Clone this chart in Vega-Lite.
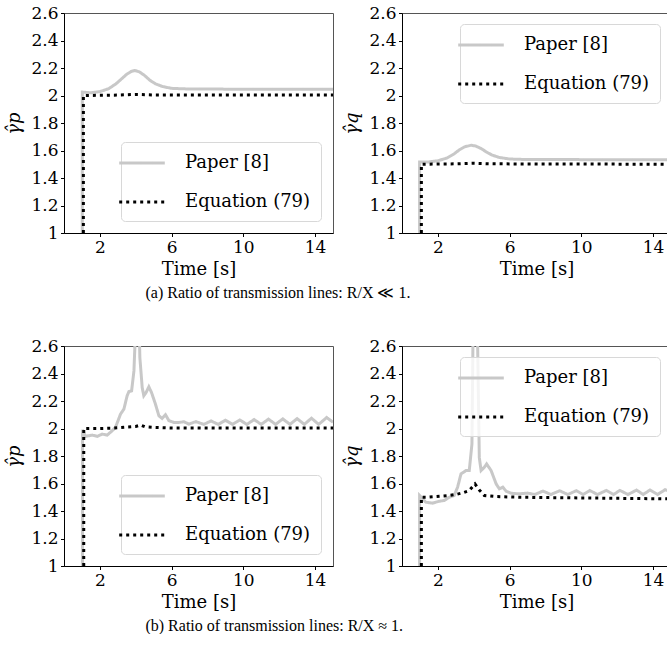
{
"$schema": "https://vega.github.io/schema/vega-lite/v6.json",
"padding": {"left": 5, "top": 3, "right": 0, "bottom": 0},
"config": {
 "view": {"stroke": "#555", "strokeWidth": 1},
 "axis": {"grid": false, "domainColor": "#000", "tickColor": "#000", "tickSize": 3.5, "labelFontSize": 17, "labelColor": "#000", "labelPadding": 2.5, "titleFontSize": 18, "titleColor": "#000", "labelFlush": false, "labelOverlap": false},
 "axisX": {"titlePadding": 5},
 "axisY": {"titlePadding": 7},
 "legend": {"title": null, "labelFontSize": 18, "labelColor": "#000", "symbolType": "M-2.4,0H2.4", "symbolSize": 361, "symbolStrokeWidth": 3, "labelOffset": 32, "rowPadding": 19, "padding": 10, "fillColor": "rgba(255,255,255,0.8)", "strokeColor": "#d8d8d8", "cornerRadius": 4, "offset": 12, "labelLimit": 300},
 "title": {"font": "Liberation Serif", "fontSize": 16, "fontWeight": 400, "color": "#000"}
},
"datasets": {"curves": [
{"panel":"ap","series":"Paper [8]","time":1.02,"ratio":1.0},{"panel":"ap","series":"Paper [8]","time":1.021,"ratio":2.025},{"panel":"ap","series":"Paper [8]","time":1.5,"ratio":2.02},{"panel":"ap","series":"Paper [8]","time":2.0,"ratio":2.028},{"panel":"ap","series":"Paper [8]","time":2.5,"ratio":2.05},{"panel":"ap","series":"Paper [8]","time":2.9,"ratio":2.085},{"panel":"ap","series":"Paper [8]","time":3.2,"ratio":2.12},{"panel":"ap","series":"Paper [8]","time":3.5,"ratio":2.155},{"panel":"ap","series":"Paper [8]","time":3.75,"ratio":2.175},{"panel":"ap","series":"Paper [8]","time":3.95,"ratio":2.182},{"panel":"ap","series":"Paper [8]","time":4.2,"ratio":2.172},{"panel":"ap","series":"Paper [8]","time":4.5,"ratio":2.145},{"panel":"ap","series":"Paper [8]","time":4.8,"ratio":2.11},{"panel":"ap","series":"Paper [8]","time":5.1,"ratio":2.085},{"panel":"ap","series":"Paper [8]","time":5.5,"ratio":2.065},{"panel":"ap","series":"Paper [8]","time":6.0,"ratio":2.052},{"panel":"ap","series":"Paper [8]","time":7.0,"ratio":2.047},{"panel":"ap","series":"Paper [8]","time":10,"ratio":2.046},{"panel":"ap","series":"Paper [8]","time":15,"ratio":2.046},
{"panel":"ap","series":"Equation (79)","time":1.08,"ratio":1.0},{"panel":"ap","series":"Equation (79)","time":1.081,"ratio":2.0},{"panel":"ap","series":"Equation (79)","time":3.0,"ratio":2.003},{"panel":"ap","series":"Equation (79)","time":4.0,"ratio":2.008},{"panel":"ap","series":"Equation (79)","time":5.0,"ratio":2.004},{"panel":"ap","series":"Equation (79)","time":15,"ratio":2.003},
{"panel":"aq","series":"Paper [8]","time":0.98,"ratio":1.0},{"panel":"aq","series":"Paper [8]","time":0.981,"ratio":1.517},{"panel":"aq","series":"Paper [8]","time":1.5,"ratio":1.517},{"panel":"aq","series":"Paper [8]","time":2.0,"ratio":1.525},{"panel":"aq","series":"Paper [8]","time":2.5,"ratio":1.545},{"panel":"aq","series":"Paper [8]","time":2.9,"ratio":1.575},{"panel":"aq","series":"Paper [8]","time":3.2,"ratio":1.605},{"panel":"aq","series":"Paper [8]","time":3.5,"ratio":1.627},{"panel":"aq","series":"Paper [8]","time":3.85,"ratio":1.638},{"panel":"aq","series":"Paper [8]","time":4.1,"ratio":1.633},{"panel":"aq","series":"Paper [8]","time":4.4,"ratio":1.615},{"panel":"aq","series":"Paper [8]","time":4.7,"ratio":1.59},{"panel":"aq","series":"Paper [8]","time":5.0,"ratio":1.568},{"panel":"aq","series":"Paper [8]","time":5.4,"ratio":1.55},{"panel":"aq","series":"Paper [8]","time":6.0,"ratio":1.538},{"panel":"aq","series":"Paper [8]","time":7.0,"ratio":1.534},{"panel":"aq","series":"Paper [8]","time":15,"ratio":1.533},
{"panel":"aq","series":"Equation (79)","time":1.08,"ratio":1.0},{"panel":"aq","series":"Equation (79)","time":1.081,"ratio":1.5},{"panel":"aq","series":"Equation (79)","time":3.0,"ratio":1.503},{"panel":"aq","series":"Equation (79)","time":4.0,"ratio":1.507},{"panel":"aq","series":"Equation (79)","time":5.0,"ratio":1.503},{"panel":"aq","series":"Equation (79)","time":15,"ratio":1.5},
{"panel":"bp","series":"Paper [8]","time":1.03,"ratio":1.0},{"panel":"bp","series":"Paper [8]","time":1.031,"ratio":1.99},{"panel":"bp","series":"Paper [8]","time":1.2,"ratio":1.943},{"panel":"bp","series":"Paper [8]","time":1.57,"ratio":1.952},{"panel":"bp","series":"Paper [8]","time":1.85,"ratio":1.943},{"panel":"bp","series":"Paper [8]","time":2.13,"ratio":1.959},{"panel":"bp","series":"Paper [8]","time":2.41,"ratio":1.952},{"panel":"bp","series":"Paper [8]","time":2.69,"ratio":1.984},{"panel":"bp","series":"Paper [8]","time":2.87,"ratio":2.008},{"panel":"bp","series":"Paper [8]","time":3.15,"ratio":2.104},{"panel":"bp","series":"Paper [8]","time":3.34,"ratio":2.141},{"panel":"bp","series":"Paper [8]","time":3.52,"ratio":2.238},{"panel":"bp","series":"Paper [8]","time":3.62,"ratio":2.269},{"panel":"bp","series":"Paper [8]","time":3.77,"ratio":2.274},{"panel":"bp","series":"Paper [8]","time":3.9,"ratio":2.419},{"panel":"bp","series":"Paper [8]","time":3.95,"ratio":2.588},{"panel":"bp","series":"Paper [8]","time":4.02,"ratio":3.2},{"panel":"bp","series":"Paper [8]","time":4.12,"ratio":3.2},{"panel":"bp","series":"Paper [8]","time":4.23,"ratio":2.516},{"panel":"bp","series":"Paper [8]","time":4.36,"ratio":2.298},{"panel":"bp","series":"Paper [8]","time":4.45,"ratio":2.238},{"panel":"bp","series":"Paper [8]","time":4.58,"ratio":2.262},{"panel":"bp","series":"Paper [8]","time":4.73,"ratio":2.303},{"panel":"bp","series":"Paper [8]","time":4.88,"ratio":2.262},{"panel":"bp","series":"Paper [8]","time":5.1,"ratio":2.177},{"panel":"bp","series":"Paper [8]","time":5.29,"ratio":2.093},{"panel":"bp","series":"Paper [8]","time":5.47,"ratio":2.073},{"panel":"bp","series":"Paper [8]","time":5.66,"ratio":2.1},{"panel":"bp","series":"Paper [8]","time":5.85,"ratio":2.057},{"panel":"bp","series":"Paper [8]","time":6.13,"ratio":2.044},{"panel":"bp","series":"Paper [8]","time":6.4,"ratio":2.044},{"panel":"bp","series":"Paper [8]","time":6.69,"ratio":2.049},{"panel":"bp","series":"Paper [8]","time":6.96,"ratio":2.032},{"panel":"bp","series":"Paper [8]","time":7.35,"ratio":2.05},{"panel":"bp","series":"Paper [8]","time":7.8,"ratio":2.03},{"panel":"bp","series":"Paper [8]","time":8.2,"ratio":2.055},{"panel":"bp","series":"Paper [8]","time":8.6,"ratio":2.03},{"panel":"bp","series":"Paper [8]","time":9.0,"ratio":2.06},{"panel":"bp","series":"Paper [8]","time":9.4,"ratio":2.03},{"panel":"bp","series":"Paper [8]","time":9.8,"ratio":2.062},{"panel":"bp","series":"Paper [8]","time":10.2,"ratio":2.03},{"panel":"bp","series":"Paper [8]","time":10.6,"ratio":2.065},{"panel":"bp","series":"Paper [8]","time":11.0,"ratio":2.03},{"panel":"bp","series":"Paper [8]","time":11.4,"ratio":2.068},{"panel":"bp","series":"Paper [8]","time":11.8,"ratio":2.03},{"panel":"bp","series":"Paper [8]","time":12.2,"ratio":2.07},{"panel":"bp","series":"Paper [8]","time":12.6,"ratio":2.03},{"panel":"bp","series":"Paper [8]","time":13.0,"ratio":2.072},{"panel":"bp","series":"Paper [8]","time":13.4,"ratio":2.03},{"panel":"bp","series":"Paper [8]","time":13.8,"ratio":2.075},{"panel":"bp","series":"Paper [8]","time":14.2,"ratio":2.03},{"panel":"bp","series":"Paper [8]","time":14.65,"ratio":2.08},{"panel":"bp","series":"Paper [8]","time":15,"ratio":2.045},
{"panel":"bp","series":"Equation (79)","time":1.1,"ratio":1.0},{"panel":"bp","series":"Equation (79)","time":1.101,"ratio":2.0},{"panel":"bp","series":"Equation (79)","time":2.0,"ratio":2.0},{"panel":"bp","series":"Equation (79)","time":2.8,"ratio":2.003},{"panel":"bp","series":"Equation (79)","time":3.5,"ratio":2.01},{"panel":"bp","series":"Equation (79)","time":4.0,"ratio":2.015},{"panel":"bp","series":"Equation (79)","time":4.27,"ratio":2.025},{"panel":"bp","series":"Equation (79)","time":4.5,"ratio":2.013},{"panel":"bp","series":"Equation (79)","time":5.0,"ratio":2.008},{"panel":"bp","series":"Equation (79)","time":6.0,"ratio":2.004},{"panel":"bp","series":"Equation (79)","time":15,"ratio":2.003},
{"panel":"bq","series":"Paper [8]","time":0.98,"ratio":1.0},{"panel":"bq","series":"Paper [8]","time":0.981,"ratio":1.513},{"panel":"bq","series":"Paper [8]","time":1.33,"ratio":1.464},{"panel":"bq","series":"Paper [8]","time":1.7,"ratio":1.457},{"panel":"bq","series":"Paper [8]","time":2.07,"ratio":1.471},{"panel":"bq","series":"Paper [8]","time":2.35,"ratio":1.476},{"panel":"bq","series":"Paper [8]","time":2.63,"ratio":1.5},{"panel":"bq","series":"Paper [8]","time":2.91,"ratio":1.513},{"panel":"bq","series":"Paper [8]","time":3.1,"ratio":1.573},{"panel":"bq","series":"Paper [8]","time":3.29,"ratio":1.67},{"panel":"bq","series":"Paper [8]","time":3.57,"ratio":1.694},{"panel":"bq","series":"Paper [8]","time":3.75,"ratio":1.694},{"panel":"bq","series":"Paper [8]","time":3.9,"ratio":1.887},{"panel":"bq","series":"Paper [8]","time":4.0,"ratio":3.2},{"panel":"bq","series":"Paper [8]","time":4.1,"ratio":3.2},{"panel":"bq","series":"Paper [8]","time":4.22,"ratio":2.59},{"panel":"bq","series":"Paper [8]","time":4.31,"ratio":1.79},{"panel":"bq","series":"Paper [8]","time":4.41,"ratio":1.694},{"panel":"bq","series":"Paper [8]","time":4.59,"ratio":1.718},{"panel":"bq","series":"Paper [8]","time":4.72,"ratio":1.742},{"panel":"bq","series":"Paper [8]","time":4.97,"ratio":1.694},{"panel":"bq","series":"Paper [8]","time":5.25,"ratio":1.597},{"panel":"bq","series":"Paper [8]","time":5.43,"ratio":1.561},{"panel":"bq","series":"Paper [8]","time":5.62,"ratio":1.573},{"panel":"bq","series":"Paper [8]","time":5.81,"ratio":1.544},{"panel":"bq","series":"Paper [8]","time":6.09,"ratio":1.529},{"panel":"bq","series":"Paper [8]","time":6.5,"ratio":1.525},{"panel":"bq","series":"Paper [8]","time":7.0,"ratio":1.53},{"panel":"bq","series":"Paper [8]","time":7.4,"ratio":1.52},{"panel":"bq","series":"Paper [8]","time":7.86,"ratio":1.545},{"panel":"bq","series":"Paper [8]","time":8.3,"ratio":1.52},{"panel":"bq","series":"Paper [8]","time":8.79,"ratio":1.547},{"panel":"bq","series":"Paper [8]","time":9.25,"ratio":1.52},{"panel":"bq","series":"Paper [8]","time":9.72,"ratio":1.548},{"panel":"bq","series":"Paper [8]","time":10.1,"ratio":1.52},{"panel":"bq","series":"Paper [8]","time":10.47,"ratio":1.549},{"panel":"bq","series":"Paper [8]","time":10.9,"ratio":1.52},{"panel":"bq","series":"Paper [8]","time":11.4,"ratio":1.55},{"panel":"bq","series":"Paper [8]","time":11.8,"ratio":1.52},{"panel":"bq","series":"Paper [8]","time":12.15,"ratio":1.55},{"panel":"bq","series":"Paper [8]","time":12.6,"ratio":1.52},{"panel":"bq","series":"Paper [8]","time":13.08,"ratio":1.552},{"panel":"bq","series":"Paper [8]","time":13.45,"ratio":1.52},{"panel":"bq","series":"Paper [8]","time":13.83,"ratio":1.553},{"panel":"bq","series":"Paper [8]","time":14.25,"ratio":1.52},{"panel":"bq","series":"Paper [8]","time":14.67,"ratio":1.555},{"panel":"bq","series":"Paper [8]","time":15,"ratio":1.54},
{"panel":"bq","series":"Equation (79)","time":1.08,"ratio":1.0},{"panel":"bq","series":"Equation (79)","time":1.081,"ratio":1.5},{"panel":"bq","series":"Equation (79)","time":1.4,"ratio":1.5},{"panel":"bq","series":"Equation (79)","time":2.63,"ratio":1.513},{"panel":"bq","series":"Equation (79)","time":3.0,"ratio":1.52},{"panel":"bq","series":"Equation (79)","time":3.38,"ratio":1.532},{"panel":"bq","series":"Equation (79)","time":3.75,"ratio":1.549},{"panel":"bq","series":"Equation (79)","time":4.07,"ratio":1.597},{"panel":"bq","series":"Equation (79)","time":4.31,"ratio":1.553},{"panel":"bq","series":"Equation (79)","time":4.59,"ratio":1.513},{"panel":"bq","series":"Equation (79)","time":5.25,"ratio":1.505},{"panel":"bq","series":"Equation (79)","time":6.5,"ratio":1.5},{"panel":"bq","series":"Equation (79)","time":15,"ratio":1.488}
]},
"resolve": {"scale": {"color": "independent", "strokeDash": "independent"}, "legend": {"color": "independent", "strokeDash": "independent"}},
"spacing": 35,
"vconcat": [
 {"hconcat": [
  {"width": 269, "height": 220, "data": {"name": "curves"}, "transform": [{"filter": "datum.panel=='ap'"}],
   "mark": {"type": "line", "clip": true, "strokeWidth": 3},
   "encoding": {
    "x": {"field": "time", "type": "quantitative", "scale": {"domain": [0, 15]}, "axis": {"title": "Time [s]", "values": [2, 6, 10, 14], "labelFont": "DejaVu Serif", "titleFont": "DejaVu Serif", "titleFontWeight": 400}},
    "y": {"field": "ratio", "type": "quantitative", "scale": {"domain": [1, 2.6]}, "axis": {"title": "γ̂p", "values": [1, 1.2, 1.4, 1.6, 1.8, 2, 2.2, 2.4, 2.6], "format": "~g", "labelFont": "DejaVu Serif", "titleFont": "DejaVu Serif", "titleFontWeight": 400, "titleFontStyle": "italic"}},
    "color": {"field": "series", "type": "nominal", "scale": {"domain": ["Paper [8]", "Equation (79)"], "range": ["#c8c8c8", "#000000"]}, "legend": {"orient": "bottom-right", "labelFont": "DejaVu Serif"}},
    "strokeDash": {"field": "series", "type": "nominal", "scale": {"domain": ["Paper [8]", "Equation (79)"], "range": [[1, 0], [3, 4]]}, "legend": {"orient": "bottom-right", "labelFont": "DejaVu Serif"}}
   }},
  {"width": 269, "height": 220, "data": {"name": "curves"}, "transform": [{"filter": "datum.panel=='aq'"}],
   "mark": {"type": "line", "clip": true, "strokeWidth": 3},
   "encoding": {
    "x": {"field": "time", "type": "quantitative", "scale": {"domain": [0, 15]}, "axis": {"title": "Time [s]", "values": [2, 6, 10, 14], "labelFont": "DejaVu Serif", "titleFont": "DejaVu Serif", "titleFontWeight": 400}},
    "y": {"field": "ratio", "type": "quantitative", "scale": {"domain": [1, 2.6]}, "axis": {"title": "γ̂q", "values": [1, 1.2, 1.4, 1.6, 1.8, 2, 2.2, 2.4, 2.6], "format": "~g", "labelFont": "DejaVu Serif", "titleFont": "DejaVu Serif", "titleFontWeight": 400, "titleFontStyle": "italic"}},
    "color": {"field": "series", "type": "nominal", "scale": {"domain": ["Paper [8]", "Equation (79)"], "range": ["#c8c8c8", "#000000"]}, "legend": {"orient": "top-right", "offset": 11, "labelFont": "DejaVu Serif"}},
    "strokeDash": {"field": "series", "type": "nominal", "scale": {"domain": ["Paper [8]", "Equation (79)"], "range": [[1, 0], [3, 4]]}, "legend": {"orient": "top-right", "offset": 11, "labelFont": "DejaVu Serif"}}
   }}
 ],
 "spacing": 69, "bounds": "flush",
 "resolve": {"scale": {"color": "independent", "strokeDash": "independent"}, "legend": {"color": "independent", "strokeDash": "independent"}},
 "title": {"text": "(a) Ratio of transmission lines: R/X ≪ 1.", "orient": "bottom", "anchor": "start", "dx": 140, "offset": 6}
 },
 {"hconcat": [
  {"width": 269, "height": 220, "data": {"name": "curves"}, "transform": [{"filter": "datum.panel=='bp'"}],
   "mark": {"type": "line", "clip": true, "strokeWidth": 3},
   "encoding": {
    "x": {"field": "time", "type": "quantitative", "scale": {"domain": [0, 15]}, "axis": {"title": "Time [s]", "values": [2, 6, 10, 14], "labelFont": "DejaVu Serif", "titleFont": "DejaVu Serif", "titleFontWeight": 400}},
    "y": {"field": "ratio", "type": "quantitative", "scale": {"domain": [1, 2.6]}, "axis": {"title": "γ̂p", "values": [1, 1.2, 1.4, 1.6, 1.8, 2, 2.2, 2.4, 2.6], "format": "~g", "labelFont": "DejaVu Serif", "titleFont": "DejaVu Serif", "titleFontWeight": 400, "titleFontStyle": "italic"}},
    "color": {"field": "series", "type": "nominal", "scale": {"domain": ["Paper [8]", "Equation (79)"], "range": ["#c8c8c8", "#000000"]}, "legend": {"orient": "bottom-right", "labelFont": "DejaVu Serif"}},
    "strokeDash": {"field": "series", "type": "nominal", "scale": {"domain": ["Paper [8]", "Equation (79)"], "range": [[1, 0], [3, 4]]}, "legend": {"orient": "bottom-right", "labelFont": "DejaVu Serif"}}
   }},
  {"width": 269, "height": 220, "data": {"name": "curves"}, "transform": [{"filter": "datum.panel=='bq'"}],
   "mark": {"type": "line", "clip": true, "strokeWidth": 3},
   "encoding": {
    "x": {"field": "time", "type": "quantitative", "scale": {"domain": [0, 15]}, "axis": {"title": "Time [s]", "values": [2, 6, 10, 14], "labelFont": "DejaVu Serif", "titleFont": "DejaVu Serif", "titleFontWeight": 400}},
    "y": {"field": "ratio", "type": "quantitative", "scale": {"domain": [1, 2.6]}, "axis": {"title": "γ̂q", "values": [1, 1.2, 1.4, 1.6, 1.8, 2, 2.2, 2.4, 2.6], "format": "~g", "labelFont": "DejaVu Serif", "titleFont": "DejaVu Serif", "titleFontWeight": 400, "titleFontStyle": "italic"}},
    "color": {"field": "series", "type": "nominal", "scale": {"domain": ["Paper [8]", "Equation (79)"], "range": ["#c8c8c8", "#000000"]}, "legend": {"orient": "top-right", "offset": 11, "labelFont": "DejaVu Serif"}},
    "strokeDash": {"field": "series", "type": "nominal", "scale": {"domain": ["Paper [8]", "Equation (79)"], "range": [[1, 0], [3, 4]]}, "legend": {"orient": "top-right", "offset": 11, "labelFont": "DejaVu Serif"}}
   }}
 ],
 "spacing": 69, "bounds": "flush",
 "resolve": {"scale": {"color": "independent", "strokeDash": "independent"}, "legend": {"color": "independent", "strokeDash": "independent"}},
 "title": {"text": "(b) Ratio of transmission lines: R/X ≈ 1.", "orient": "bottom", "anchor": "start", "dx": 140, "offset": 6}
 }
]
}
